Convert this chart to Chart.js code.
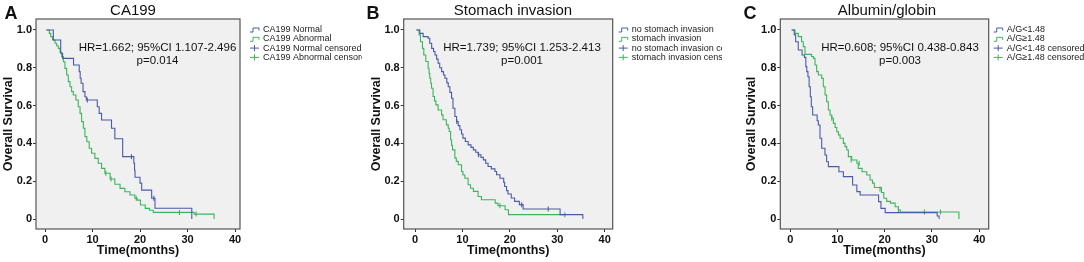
<!DOCTYPE html>
<html>
<head>
<meta charset="utf-8">
<script src="https://cdn.jsdelivr.net/npm/chart.js@4.4.0/dist/chart.umd.min.js"></script>
<style>
  body { margin: 0; background: #fff; width: 1084px; height: 262px; position: relative; overflow: hidden; }
  canvas { position: absolute; top: 0; background: #fff; }
</style>
</head>
<body>
<canvas id="cA" width="362" height="262" style="left:0px"></canvas>
<canvas id="cB" width="360" height="262" style="left:362px"></canvas>
<canvas id="cC" width="362" height="262" style="left:722px"></canvas>
<script>
// axes
const xTicks = [0, 10, 20, 30, 40];
const yTicks = [0, 0.2, 0.4, 0.6, 0.8, 1.0];
const yTickLabels = ["0", "0.2", "0.4", "0.6", "0.8", "1.0"];
const xTitle = "Time(months)";
const yTitle = "Overall Survival";

// panel A - CA199
const titleA = "CA199";
const hrA = "HR=1.662; 95%CI 1.107-2.496";
const pA = "p=0.014";
const legendA = ["CA199 Normal", "CA199 Abnormal", "CA199 Normal censored", "CA199 Abnormal censored"];
const caNormalTime = [0.3, 1.75, 3.3, 3.7, 6.0, 7.2, 7.4, 7.6, 8.0, 8.4, 8.7, 11.0, 11.4, 11.9, 14.0, 14.7, 16.35, 18.7, 18.85, 18.95, 20.0, 20.35, 22.45, 23.15, 30.9];
const caNormalSurv = [1.0, 0.947, 0.877, 0.85, 0.815, 0.78, 0.745, 0.718, 0.674, 0.647, 0.63, 0.594, 0.559, 0.524, 0.48, 0.425, 0.33, 0.295, 0.258, 0.221, 0.19, 0.153, 0.11, 0.057, 0.0];
const caAbnTime = [0.3, 0.9, 1.2, 1.6, 2.1, 2.45, 2.8, 3.16, 3.5, 3.86, 4.2, 4.56, 4.9, 5.25, 5.6, 5.96, 6.5, 7.0, 7.37, 7.7, 8.07, 8.4, 8.8, 9.3, 9.8, 10.5, 11.2, 11.9, 12.6, 13.7, 14.7, 15.8, 16.8, 17.9, 18.9, 19.4, 20.1, 21.1, 22.0, 22.8, 31.4, 35.6];
const caAbnSurv = [1.0, 0.982, 0.965, 0.947, 0.93, 0.917, 0.903, 0.882, 0.859, 0.832, 0.797, 0.762, 0.727, 0.70, 0.674, 0.656, 0.63, 0.594, 0.559, 0.515, 0.48, 0.436, 0.409, 0.374, 0.348, 0.321, 0.295, 0.268, 0.242, 0.212, 0.184, 0.162, 0.144, 0.127, 0.11, 0.10, 0.074, 0.056, 0.046, 0.035, 0.026, 0.0];
const caNormalCensTime = [8.9, 18.2, 22.9];
const caNormalCensSurv = [0.63, 0.33, 0.11];
const caAbnCensTime = [12.8, 13.9, 19.2, 28.3, 31.8];
const caAbnCensSurv = [0.242, 0.212, 0.11, 0.035, 0.026];

// panel B - stomach invasion
const titleB = "Stomach invasion";
const hrB = "HR=1.739; 95%CI 1.253-2.413";
const pB = "p=0.001";
const legendB = ["no stomach invasion", "stomach invasion", "no stomach invasion censored", "stomach invasion censored"];
const noInvTime = [0.3, 1.0, 1.7, 2.75, 3.1, 3.5, 3.9, 4.2, 4.55, 4.86, 5.2, 5.6, 6.0, 6.3, 6.7, 7.0, 7.35, 7.7, 8.0, 8.4, 8.75, 9.1, 9.45, 9.8, 10.1, 10.6, 11.2, 11.8, 12.3, 12.8, 13.3, 13.9, 14.4, 14.9, 15.4, 16.1, 16.85, 17.2, 17.9, 18.7, 18.9, 19.3, 19.6, 20.3, 21.0, 22.0, 22.8, 30.6, 35.4];
const noInvSurv = [1.0, 0.982, 0.965, 0.956, 0.93, 0.903, 0.886, 0.868, 0.846, 0.824, 0.80, 0.78, 0.762, 0.745, 0.72, 0.70, 0.67, 0.639, 0.586, 0.542, 0.516, 0.494, 0.472, 0.45, 0.428, 0.41, 0.392, 0.379, 0.366, 0.353, 0.34, 0.326, 0.313, 0.295, 0.278, 0.265, 0.251, 0.234, 0.216, 0.194, 0.172, 0.15, 0.132, 0.111, 0.093, 0.076, 0.053, 0.023, 0.0];
const invTime = [0.3, 0.85, 1.14, 1.56, 1.84, 2.26, 2.75, 2.95, 3.1, 3.3, 3.47, 3.8, 4.1, 4.4, 4.86, 5.6, 5.9, 6.6, 7.0, 7.2, 7.5, 7.7, 7.9, 8.4, 8.7, 9.1, 9.8, 10.1, 10.5, 11.2, 11.7, 12.3, 13.3, 14.0, 16.9, 17.5, 19.0, 19.7, 31.7];
const invSurv = [1.0, 0.974, 0.938, 0.903, 0.868, 0.833, 0.798, 0.77, 0.745, 0.718, 0.692, 0.648, 0.625, 0.604, 0.577, 0.551, 0.525, 0.498, 0.48, 0.463, 0.419, 0.39, 0.366, 0.322, 0.305, 0.287, 0.251, 0.233, 0.216, 0.181, 0.163, 0.146, 0.119, 0.102, 0.084, 0.07, 0.049, 0.023, 0.023];
const noInvCensTime = [8.8, 13.4, 22.5, 28.1];
const noInvCensSurv = [0.516, 0.34, 0.076, 0.053];
const invCensTime = [17.9, 31.6];
const invCensSurv = [0.07, 0.023];

// panel C - albumin/globin
const titleC = "Albumin/globin";
const hrC = "HR=0.608; 95%CI 0.438-0.843";
const pC = "p=0.003";
const legendC = ["A/G<1.48", "A/G\u22651.48", "A/G<1.48 censored", "A/G\u22651.48 censored"];
const agLowTime = [0.3, 0.85, 1.15, 1.7, 2.5, 3.0, 3.3, 3.5, 3.75, 4.0, 4.25, 4.46, 4.75, 5.7, 5.95, 6.3, 6.66, 7.35, 7.7, 8.07, 10.3, 11.25, 13.2, 14.1, 14.8, 18.7, 19.2, 20.1, 31.1, 31.5];
const agLowSurv = [1.0, 0.974, 0.938, 0.894, 0.868, 0.855, 0.806, 0.78, 0.753, 0.70, 0.647, 0.594, 0.55, 0.52, 0.497, 0.427, 0.374, 0.339, 0.303, 0.277, 0.25, 0.224, 0.18, 0.145, 0.127, 0.092, 0.056, 0.034, 0.016, 0.0];
const agHighTime = [0.3, 1.0, 1.7, 2.4, 2.76, 3.12, 4.5, 4.9, 5.24, 5.6, 5.95, 6.66, 7.0, 7.37, 7.7, 8.07, 8.43, 8.8, 9.13, 9.5, 9.85, 10.2, 10.55, 11.25, 11.6, 11.97, 12.3, 13.0, 14.1, 14.4, 15.2, 16.2, 16.9, 17.4, 17.8, 19.3, 19.8, 20.4, 21.2, 22.2, 22.9, 23.3, 35.7];
const agHighSurv = [1.0, 0.982, 0.965, 0.938, 0.912, 0.871, 0.86, 0.85, 0.815, 0.78, 0.762, 0.744, 0.70, 0.656, 0.62, 0.577, 0.55, 0.533, 0.506, 0.484, 0.462, 0.445, 0.427, 0.40, 0.383, 0.365, 0.33, 0.312, 0.295, 0.268, 0.25, 0.233, 0.206, 0.19, 0.167, 0.14, 0.11, 0.093, 0.084, 0.065, 0.048, 0.037, 0.0];
const agLowCensTime = [];
const agLowCensSurv = [];
const agHighCensTime = [8.8, 12.9, 14.6, 19.0, 22.9, 28.4, 31.8];
const agHighCensSurv = [0.533, 0.312, 0.295, 0.159, 0.048, 0.037, 0.037];

const blue = "#4a5aa8";
const green = "#3cb45c";

function pts(t, s) { return t.map((v, i) => ({ x: v, y: s[i] })); }

function kmSets(labels, a, b, ac, bc) {
  return [
    { type: "line", label: labels[0], data: pts(a[0], a[1]), borderColor: blue, borderWidth: 1.1, stepped: "before", pointRadius: 0, kind: "step" },
    { type: "line", label: labels[1], data: pts(b[0], b[1]), borderColor: green, borderWidth: 1.1, stepped: "before", pointRadius: 0, kind: "step" },
    { type: "scatter", label: labels[2], data: pts(ac[0], ac[1]), borderColor: blue, borderWidth: 1.1, pointStyle: "line", rotation: 90, pointRadius: 2.5, showLine: false, kind: "cross" },
    { type: "scatter", label: labels[3], data: pts(bc[0], bc[1]), borderColor: green, borderWidth: 1.1, pointStyle: "line", rotation: 90, pointRadius: 2.5, showLine: false, kind: "cross" }
  ];
}

const FONT = "'Liberation Sans', Arial, sans-serif";

const kmDecor = {
  id: "kmDecor",
  beforeDatasetsDraw(chart) {
    const a = chart.chartArea, ctx = chart.ctx;
    ctx.save();
    ctx.fillStyle = "#f0f0f0";
    ctx.fillRect(a.left, a.top, a.right - a.left, a.bottom - a.top);
    ctx.restore();
  },
  afterDraw(chart) {
    const a = chart.chartArea, ctx = chart.ctx, o = chart.options.plugins.kmDecor;
    ctx.save();
    ctx.strokeStyle = "#555";
    ctx.lineWidth = 1.2;
    ctx.strokeRect(a.left, a.top, a.right - a.left, a.bottom - a.top);
    ctx.fillStyle = "#111";
    ctx.textAlign = "center";
    ctx.textBaseline = "middle";
    ctx.font = "bold 18px " + FONT;
    ctx.fillText(o.letter, o.letterX, 14);
    ctx.font = "15px " + FONT;
    ctx.fillText(o.title, o.titleX, 11);
    ctx.font = "11.5px " + FONT;
    ctx.fillText(o.hr, o.hrX, 47.5);
    ctx.fillText(o.p, o.hrX, 61);
    // legend
    ctx.textAlign = "left";
    ctx.font = "9px " + FONT;
    chart.data.datasets.forEach((ds, i) => {
      const y = 29.5 + i * 9.3, x = o.legendX;
      ctx.strokeStyle = ds.borderColor;
      ctx.lineWidth = 1;
      ctx.beginPath();
      if (ds.kind === "step") {
        ctx.moveTo(x, y + 2.5); ctx.lineTo(x + 3, y + 2.5); ctx.lineTo(x + 3, y - 1.5);
        ctx.lineTo(x + 9, y - 1.5); ctx.lineTo(x + 9, y + 1);
      } else {
        ctx.moveTo(x, y); ctx.lineTo(x + 9, y);
        ctx.moveTo(x + 4.5, y - 3); ctx.lineTo(x + 4.5, y + 3);
      }
      ctx.stroke();
      ctx.fillStyle = "#222";
      ctx.fillText(ds.label, x + 13, y);
    });
    ctx.restore();
  }
};

function makeChart(id, cfg) {
  const canvas = document.getElementById(id);
  const W = canvas.width;
  new Chart(canvas, {
    data: { datasets: cfg.datasets },
    options: {
      responsive: false,
      animation: false,
      events: [],
      layout: { padding: { top: 19, right: W - cfg.right, left: 0, bottom: 0 } },
      plugins: {
        legend: { display: false },
        tooltip: { enabled: false },
        kmDecor: cfg.decor
      },
      scales: {
        x: {
          type: "linear", min: cfg.xMin, max: cfg.xMax,
          afterBuildTicks: s => { s.ticks = xTicks.map(v => ({ value: v })); },
          afterFit: s => { s.height = 33; },
          grid: { drawOnChartArea: false, tickLength: 3, color: "#333" },
          border: { display: false },
          ticks: { autoSkip: false, maxRotation: 0, padding: 1, color: "#111", font: { family: FONT, size: 11, weight: "bold" }, callback: v => String(v) },
          title: { display: true, text: xTitle, color: "#111", font: { family: FONT, size: 12.5, weight: "bold" }, padding: { top: 0, bottom: 3.5 } }
        },
        y: {
          type: "linear", min: -0.0529, max: 1.0582,
          afterBuildTicks: s => { s.ticks = yTicks.map(v => ({ value: v })); },
          afterFit: s => { s.width = cfg.left; },
          grid: { drawOnChartArea: false, tickLength: 3, color: "#333" },
          border: { display: false },
          ticks: { autoSkip: false, padding: 1, color: "#111", font: { family: FONT, size: 11, weight: "bold" },
                   callback: (v) => yTickLabels[yTicks.indexOf(v)] },
          title: { display: true, text: yTitle, color: "#111", font: { family: FONT, size: 12.5, weight: "bold" }, padding: { top: cfg.yTitlePad, bottom: 0 } }
        }
      }
    },
    plugins: [kmDecor]
  });
}

makeChart("cA", {
  datasets: kmSets(legendA, [caNormalTime, caNormalSurv], [caAbnTime, caAbnSurv], [caNormalCensTime, caNormalCensSurv], [caAbnCensTime, caAbnCensSurv]),
  left: 36, right: 240, xMin: -1.9, xMax: 41.05, yTitlePad: 1.5,
  decor: { letter: "A", letterX: 11, title: titleA, titleX: 133, hr: hrA, p: pA, hrX: 157.5, legendX: 250 }
});
makeChart("cB", {
  datasets: kmSets(legendB, [noInvTime, noInvSurv], [invTime, invSurv], [noInvCensTime, noInvCensSurv], [invCensTime, invCensSurv]),
  left: 41.7, right: 250.7, xMin: -2.4, xMax: 41.7, yTitlePad: 7.5,
  decor: { letter: "B", letterX: 11, title: titleB, titleX: 151, hr: hrB, p: pB, hrX: 160, legendX: 256.7 }
});
makeChart("cC", {
  datasets: kmSets(legendC, [agLowTime, agLowSurv], [agHighTime, agHighSurv], [agLowCensTime, agLowCensSurv], [agHighCensTime, agHighCensSurv]),
  left: 58.3, right: 266.7, xMin: -2.1, xMax: 42.0, yTitlePad: 22.5,
  decor: { letter: "C", letterX: 28, title: titleC, titleX: 165, hr: hrC, p: pC, hrX: 178, legendX: 271.7 }
});
</script>
</body>
</html>
